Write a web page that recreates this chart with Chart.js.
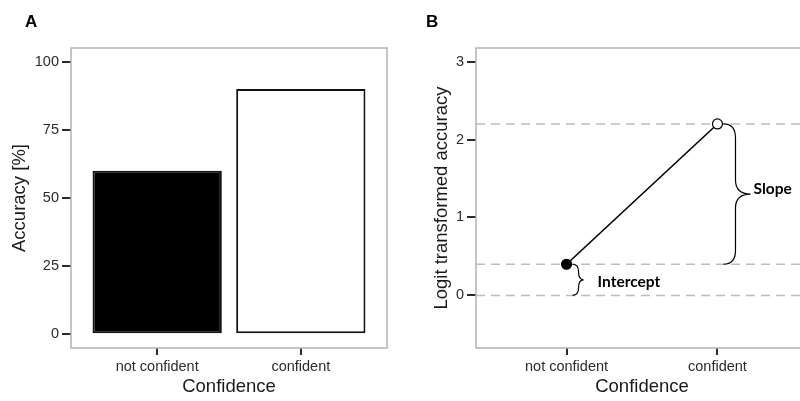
<!DOCTYPE html>
<html lang="en">
<head>
<meta charset="UTF-8">
<title>Confidence</title>
<script src="https://cdn.jsdelivr.net/npm/chart.js@4.4.0/dist/chart.umd.min.js"></script>
<style>
    html, body { margin: 0; padding: 0; background: #fff; overflow: hidden; }
    body { width: 800px; height: 401px; position: relative; }
    canvas { position: absolute; top: 0; }
    #graficoA { left: 0; }
    #graficoB { left: 400px; }
    .letra { position: absolute; top: 12px; z-index: 2; font: bold 17px "Liberation Sans", Arial, sans-serif; color: #000; }
</style>
</head>
<body>
<div class="letra" style="left:25px">A</div>
<div class="letra" style="left:426px">B</div>
<canvas id="graficoA" width="400" height="401"></canvas>
<canvas id="graficoB" width="420" height="401"></canvas>
<script>
const categorias = ["not confident", "confident"];
const precision = [60, 90];               // Accuracy [%]
const ticksPrecision = [0, 25, 50, 75, 100];
const logitPrecision = [0.4, 2.2];        // logit(0.6), logit(0.9)
const ticksLogit = [0, 1, 2, 3];
const referencias = [0, 0.4, 2.2];        // lineas punteadas

Chart.defaults.font.family = "'Liberation Sans', Arial, sans-serif";

const fuenteTicks = { size: 14.5 };
const fuenteTitulo = { size: 18.5 };

// Marco gris alrededor del area del grafico
const marco = {
    id: "marco",
    beforeDatasetsDraw(chart) {
        const { ctx, chartArea: a } = chart;
        ctx.save();
        ctx.strokeStyle = "#b3b3b3";
        ctx.lineWidth = 1.5;
        ctx.strokeRect(a.left, a.top, a.right - a.left, a.bottom - a.top);
        ctx.restore();
    },
};

function ejeY(titulo, ticks, min, max, ancho) {
    return {
        type: "linear",
        min,
        max,
        afterBuildTicks: (s) => { s.ticks = ticks.map((v) => ({ value: v })); },
        afterFit: (s) => { s.width = ancho; },
        grid: { drawOnChartArea: false, drawTicks: true, tickLength: 9, color: "#2b2b2b", lineWidth: 2 },
        border: { display: false },
        ticks: { color: "#2b2b2b", padding: 3, font: fuenteTicks },
        title: { display: true, text: titulo, color: "#1a1a1a", font: fuenteTitulo, padding: { top: 0, bottom: 0 } },
    };
}

function ejeX(alto) {
    return {
        type: "linear",
        min: 0.4,
        max: 2.6,
        offset: false,
        afterBuildTicks: (s) => { s.ticks = categorias.map((c, i) => ({ value: i + 1 })); },
        afterFit: (s) => { s.height = alto; },
        grid: { offset: false, drawOnChartArea: false, drawTicks: true, tickLength: 7, color: "#2b2b2b", lineWidth: 2 },
        border: { display: false },
        ticks: {
            color: "#2b2b2b",
            padding: 3,
            font: fuenteTicks,
            maxRotation: 0,
            autoSkip: false,
            callback: (v) => categorias[Math.round(v) - 1],
        },
        title: { display: true, text: "Confidence", color: "#1a1a1a", font: fuenteTitulo, padding: { top: 0, bottom: 3 } },
    };
}

//Grafico A: barras de precision
new Chart(document.getElementById("graficoA"), {
    type: "bar",
    data: {
        datasets: [
            {
                data: categorias.map((c, i) => ({ x: i + 1, y: precision[i] })),
                backgroundColor: ["#000", "#fff"],
                borderColor: "#111",
                borderWidth: 2,
                borderSkipped: false,
                barPercentage: 0.9,
                categoryPercentage: 1,
            },
        ],
    },
    options: {
        responsive: false,
        animation: false,
        layout: { padding: { left: 9, right: 13, top: 48, bottom: 0 } },
        plugins: { legend: { display: false }, tooltip: { enabled: false } },
        scales: {
            x: ejeX(53),
            y: ejeY("Accuracy [%]", ticksPrecision, -5, 105, 62),
        },
    },
    plugins: [marco],
});

// Llave que apunta a la derecha, de y1 (arriba) a y2 (abajo)
function llave(ctx, x, y1, y2, h, w) {
    const ym = (y1 + y2) / 2;
    const r = Math.min(14, (y2 - y1) / 4);
    ctx.beginPath();
    ctx.moveTo(x, y1);
    ctx.quadraticCurveTo(x + h, y1, x + h, y1 + r);
    ctx.lineTo(x + h, ym - r);
    ctx.quadraticCurveTo(x + h, ym, x + w, ym);
    ctx.quadraticCurveTo(x + h, ym, x + h, ym + r);
    ctx.lineTo(x + h, y2 - r);
    ctx.quadraticCurveTo(x + h, y2, x, y2);
    ctx.stroke();
}

const llaves = {
    id: "llaves",
    afterDatasetsDraw(chart) {
        const { ctx, scales: { x, y } } = chart;
        const yBase = y.getPixelForValue(0);
        const yNo = y.getPixelForValue(logitPrecision[0]);
        const ySi = y.getPixelForValue(logitPrecision[1]);
        const xInt = x.getPixelForValue(1.04);
        const xPen = x.getPixelForValue(2.04);

        ctx.save();
        ctx.strokeStyle = "#000";
        ctx.lineWidth = 1.2;
        llave(ctx, xInt, yNo, yBase, 6, 11);
        llave(ctx, xPen, ySi, yNo, 12, 27);

        ctx.fillStyle = "#000";
        ctx.font = "bold 15.5px Lato, 'Open Sans', sans-serif";
        ctx.textBaseline = "middle";
        ctx.fillText("Intercept", xInt + 25, (yNo + yBase) / 2 + 2);
        ctx.fillText("Slope", xPen + 30, (ySi + yNo) / 2 - 5);
        ctx.restore();
    },
};

//Grafico B: precision transformada con logit
new Chart(document.getElementById("graficoB"), {
    type: "line",
    data: {
        datasets: [
            {
                data: categorias.map((c, i) => ({ x: i + 1, y: logitPrecision[i] })),
                borderColor: "#000",
                borderWidth: 1.6,
                pointRadius: 5,
                pointBackgroundColor: ["#000", "#fff"],
                pointBorderColor: "#000",
                pointBorderWidth: 1.2,
            },
            ...referencias.map((v) => ({
                data: [{ x: 0.4, y: v }, { x: 2.6, y: v }],
                borderColor: "#bdbdbd",
                borderWidth: 1.5,
                borderDash: [9, 6],
                pointRadius: 0,
            })),
        ],
    },
    options: {
        responsive: false,
        animation: false,
        layout: { padding: { left: 31, right: 12, top: 48, bottom: 0 } },
        plugins: { legend: { display: false }, tooltip: { enabled: false } },
        scales: {
            x: ejeX(53),
            y: ejeY("Logit transformed accuracy", ticksLogit, -0.675, 3.175, 45),
        },
    },
    plugins: [marco, llaves],
});
</script>
</body>
</html>
